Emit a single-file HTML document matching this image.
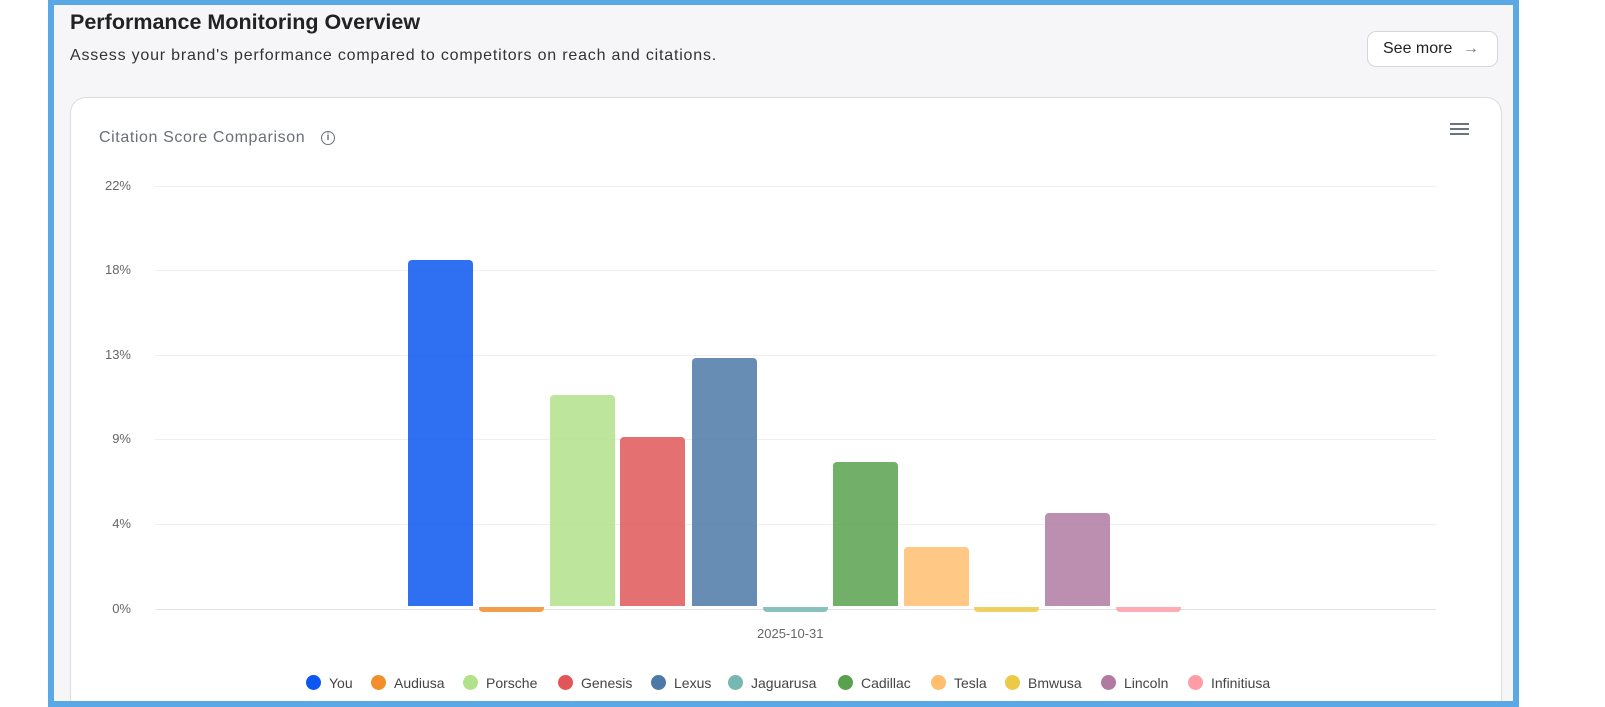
<!DOCTYPE html>
<html><head><meta charset="utf-8"><style>
body{margin:0;width:1605px;height:707px;background:#fff;position:relative;overflow:hidden;font-family:"Liberation Sans",sans-serif}
.frame{position:absolute;left:48px;top:0;width:1459px;height:696px;border:6px solid #5aa9e6;border-top-width:5px;background:#f6f6f8;overflow:hidden}
.a{position:absolute}
.card{position:absolute;left:16px;top:92px;width:1430px;height:640px;background:#fff;border:1px solid #dcdce0;border-radius:16px}
.grid{position:absolute;left:155px;width:1281px;height:1px;background:#efeff1}
.yl{position:absolute;left:90px;width:41px;text-align:right;font-size:13px;color:#666}
.bar{position:absolute;width:65px;border-radius:4px 4px 0 0;opacity:.85}
.lg{position:absolute;top:675px;font-size:14px;color:#444;white-space:nowrap}
.lg i{display:inline-block;width:15px;height:15px;border-radius:50%;vertical-align:-2px;margin-right:8px}
</style></head><body>
<div class="frame"><div class="card"></div></div>
<div class="a" style="left:70px;top:10px;font-size:21.5px;font-weight:bold;color:#222">Performance Monitoring Overview</div>
<div class="a" style="left:70px;top:47px;font-size:16px;letter-spacing:0.8px;color:#333">Assess your brand's performance compared to competitors on reach and citations.</div>
<div class="a" style="left:1367px;top:31px;width:131px;height:36px;border:1px solid #d6d6da;border-radius:9px;background:#fff;box-sizing:border-box;font-size:16px;color:#222;line-height:34px;padding-left:15px">See more <span style="color:#777;margin-left:6px">→</span></div>
<div class="a" style="left:99px;top:129px;font-size:16px;letter-spacing:0.6px;color:#6b6f76">Citation Score Comparison</div>
<div class="a" style="left:321px;top:131px;width:12px;height:12px;border:1.5px solid #6b6f76;border-radius:50%;font-size:10px;color:#6b6f76;text-align:center;line-height:12px;font-weight:bold">i</div>
<div class="a" style="left:1450px;top:123px;width:19px;height:2px;background:#6b7280;box-shadow:0 5px 0 #6b7280,0 10px 0 #6b7280"></div>
<div class="grid" style="top:186px"></div><div class="grid" style="top:270px"></div><div class="grid" style="top:355px"></div><div class="grid" style="top:439px"></div><div class="grid" style="top:524px"></div><div class="grid" style="top:609px;background:#e4e4e6"></div>
<div class="yl" style="top:178px">22%</div><div class="yl" style="top:262px">18%</div><div class="yl" style="top:347px">13%</div><div class="yl" style="top:431px">9%</div><div class="yl" style="top:516px">4%</div><div class="yl" style="top:601px">0%</div>
<div class="bar" style="left:408px;top:260px;height:346px;background:#0b57f0"></div>
<div class="bar" style="left:479px;top:607px;height:5px;background:#f28e2b;border-radius:0 0 4px 4px"></div>
<div class="bar" style="left:550px;top:395px;height:211px;background:#b1e189"></div>
<div class="bar" style="left:620px;top:437px;height:169px;background:#e15759"></div>
<div class="bar" style="left:692px;top:358px;height:248px;background:#4e79a7"></div>
<div class="bar" style="left:763px;top:607px;height:5px;background:#76b7b2;border-radius:0 0 4px 4px"></div>
<div class="bar" style="left:833px;top:462px;height:144px;background:#59a14f"></div>
<div class="bar" style="left:904px;top:547px;height:59px;background:#ffbe6f"></div>
<div class="bar" style="left:974px;top:607px;height:5px;background:#edc948;border-radius:0 0 4px 4px"></div>
<div class="bar" style="left:1045px;top:513px;height:93px;background:#b07aa1"></div>
<div class="bar" style="left:1116px;top:607px;height:5px;background:#ff9da7;border-radius:0 0 4px 4px"></div>
<div class="a" style="left:757px;top:626px;font-size:13px;color:#666">2025-10-31</div>
<div class="lg" style="left:306px"><i style="background:#0b57f0"></i>You</div>
<div class="lg" style="left:371px"><i style="background:#f28e2b"></i>Audiusa</div>
<div class="lg" style="left:463px"><i style="background:#b1e189"></i>Porsche</div>
<div class="lg" style="left:558px"><i style="background:#e15759"></i>Genesis</div>
<div class="lg" style="left:651px"><i style="background:#4e79a7"></i>Lexus</div>
<div class="lg" style="left:728px"><i style="background:#76b7b2"></i>Jaguarusa</div>
<div class="lg" style="left:838px"><i style="background:#59a14f"></i>Cadillac</div>
<div class="lg" style="left:931px"><i style="background:#ffbe6f"></i>Tesla</div>
<div class="lg" style="left:1005px"><i style="background:#edc948"></i>Bmwusa</div>
<div class="lg" style="left:1101px"><i style="background:#b07aa1"></i>Lincoln</div>
<div class="lg" style="left:1188px"><i style="background:#ff9da7"></i>Infinitiusa</div>
</body></html>
